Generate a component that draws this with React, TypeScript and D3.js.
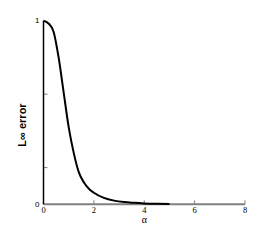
import React from "react";
import * as d3 from "d3";

// alpha values and L-infinity error
const alpha = [0, 0.2, 0.4, 0.6, 0.8, 1.0, 1.2, 1.4, 1.6, 1.8, 2.0, 2.4, 2.8, 3.2, 3.6, 4.0, 4.5, 5.0];
const err = [1, 0.985, 0.94, 0.8, 0.61, 0.42, 0.28, 0.175, 0.12, 0.085, 0.063, 0.035, 0.02, 0.012, 0.008, 0.005, 0.003, 0.002];

const xTicks = [0, 2, 4, 6, 8];
const yLabelTicks = [0, 1];
const yMinorTicks = [0.2, 0.6];

export default function App() {
  const width = 270;
  const height = 240;
  const margins = { top: 20.7, right: 25, bottom: 35.7, left: 43.5 };

  const xScale = d3.scaleLinear().domain([0, 8]).range([margins.left, width - margins.right]);
  const yScale = d3.scaleLinear().domain([0, 1]).range([height - margins.bottom, margins.top]);

  const pts: [number, number][] = alpha.map((a, i) => [a, err[i]]);
  const line = d3
    .line<[number, number]>()
    .x((d) => xScale(d[0]))
    .y((d) => yScale(d[1]))
    .curve(d3.curveMonotoneX);

  const y0 = yScale(0);
  const font = "Liberation Sans, Arial, sans-serif";
  const serif = "Liberation Serif, serif";

  return (
    <svg
      width={width}
      height={height}
      style={{ position: "absolute", left: 0, top: 0 }}
    >
      <rect width={width} height={height} fill="#fff" />
      {/* x axis */}
      <line x1={xScale(0)} x2={xScale(8)} y1={y0} y2={y0} stroke="#808080" strokeWidth={2} />
      {xTicks.map((t) => (
        <g key={"x" + t}>
          {t > 0 && (
            <line x1={xScale(t)} x2={xScale(t)} y1={y0} y2={y0 - 4} stroke="#808080" strokeWidth={1} />
          )}
          <text x={xScale(t)} y={y0 + 9} fontSize={8.5} fontFamily={serif} textAnchor="middle" fill="#000">
            {t}
          </text>
        </g>
      ))}
      {/* y axis */}
      {yMinorTicks.map((t) => (
        <line key={"ym" + t} x1={xScale(0)} x2={xScale(0) + 4} y1={yScale(t)} y2={yScale(t)} stroke="#808080" strokeWidth={1} />
      ))}
      {yLabelTicks.map((t) => (
        <text key={"y" + t} x={xScale(0) - 4} y={yScale(t) + 2.5} fontSize={8} fontFamily={font} textAnchor="end" fill="#000">
          {t}
        </text>
      ))}
      <path d={line(pts) || ""} fill="none" stroke="#000" strokeWidth={2} />
      <line x1={xScale(0)} x2={xScale(0)} y1={yScale(1)} y2={y0} stroke="#000" strokeWidth={1.5} />
      {/* labels */}
      <text x={xScale(4)} y={y0 + 18.5} fontSize={10} fontFamily={serif} textAnchor="middle" fill="#000">
        α
      </text>
      <text
        transform="translate(26, 125) rotate(-90)"
        fontSize={11}
        fontWeight="bold"
        fontFamily={font}
        textAnchor="middle"
        fill="#000"
      >
        L∞ error
      </text>
    </svg>
  );
}
